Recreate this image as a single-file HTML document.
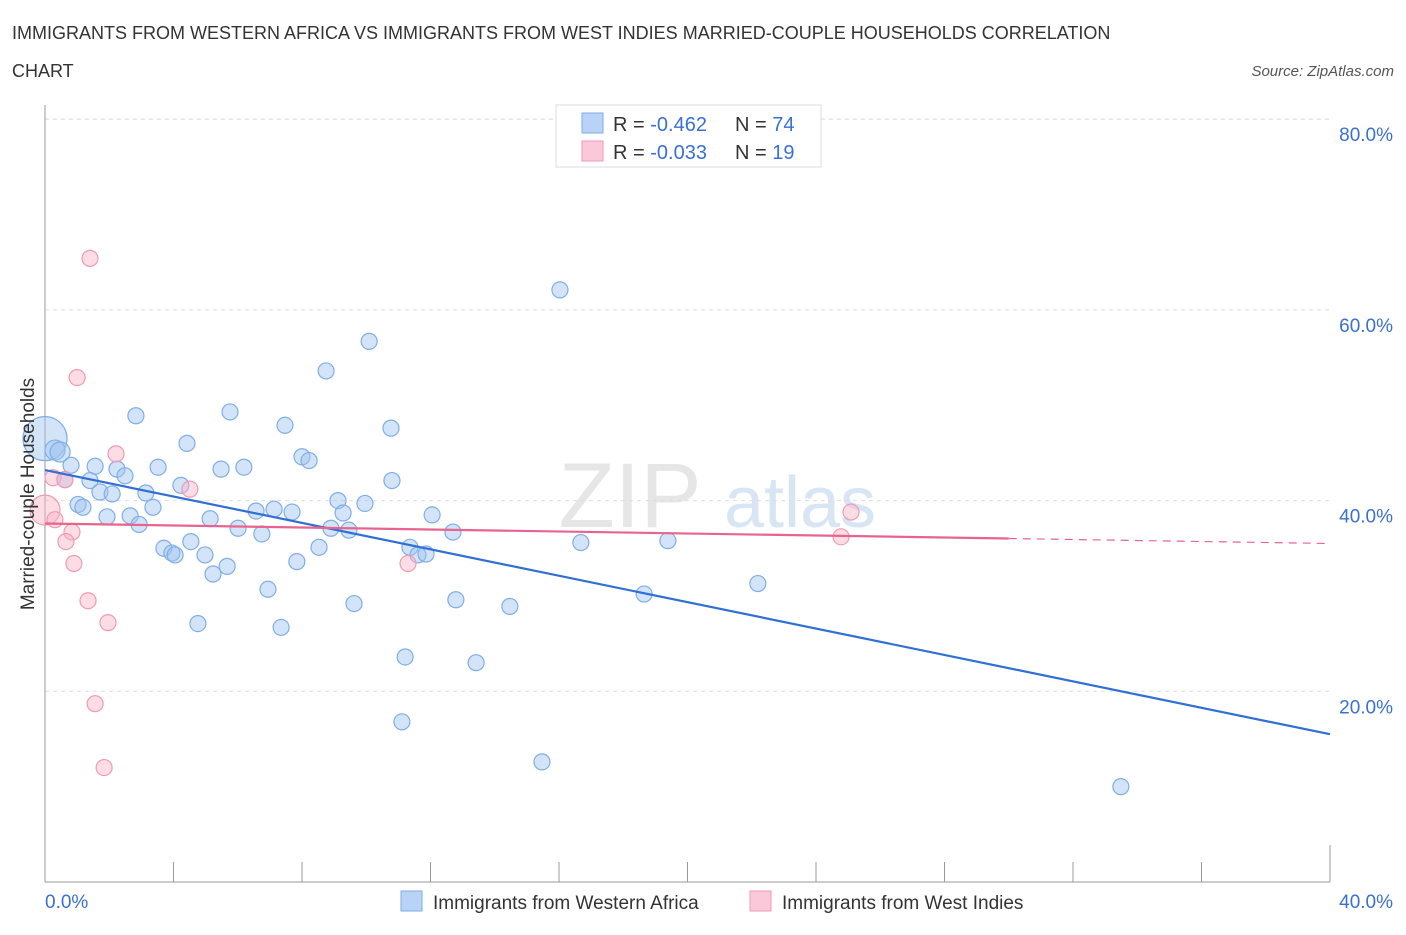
<!DOCTYPE html>
<html><head><meta charset="utf-8">
<style>
body{margin:0;background:#fff;font-family:"Liberation Sans",sans-serif;}
svg text{font-family:"Liberation Sans",sans-serif;}
</style></head>
<body>
<svg id="chart" width="1406" height="930" xmlns="http://www.w3.org/2000/svg">
<text x="12" y="39" font-size="18" fill="#333">IMMIGRANTS FROM WESTERN AFRICA VS IMMIGRANTS FROM WEST INDIES MARRIED-COUPLE HOUSEHOLDS CORRELATION</text>
<text x="12" y="77" font-size="18" fill="#333">CHART</text>
<text x="1394" y="76" font-size="15" fill="#555" text-anchor="end" font-style="italic">Source: ZipAtlas.com</text>
<g>
<text x="630" y="527" font-size="92" fill="#e6e6e6" text-anchor="middle" font-family="Liberation Serif">ZIP</text>
<text x="800" y="527" font-size="72" fill="#d7e5f5" text-anchor="middle">atlas</text>
</g>
<g id="grid"></g>
<g id="axes"></g>
<g id="marks"></g>
<g>
<rect x="556" y="105" width="265" height="62" fill="#fff" stroke="#ddd"/>
<rect x="582" y="113" width="21" height="20" fill="#b8d3f5" stroke="#7eaee8"/>
<text x="613" y="131" font-size="20" fill="#333">R = <tspan fill="#3a70d0">-0.462</tspan></text>
<text x="735" y="131" font-size="20" fill="#333">N = <tspan fill="#3a70d0">74</tspan></text>
<rect x="582" y="141" width="21" height="20" fill="#fac8d8" stroke="#f09ab5"/>
<text x="613" y="159" font-size="20" fill="#333">R = <tspan fill="#3a70d0">-0.033</tspan></text>
<text x="735" y="159" font-size="20" fill="#333">N = <tspan fill="#3a70d0"> 19</tspan></text>
</g>
<g>
<rect x="401" y="891" width="21" height="20" fill="#b8d3f5" stroke="#7eaee8"/>
<text x="433" y="909" font-size="19" fill="#333">Immigrants from Western Africa</text>
<rect x="750" y="891" width="21" height="20" fill="#fac8d8" stroke="#f09ab5"/>
<text x="782" y="909" font-size="19" fill="#333">Immigrants from West Indies</text>
</g>
<text transform="translate(34,494) rotate(-90)" font-size="19" fill="#333" text-anchor="middle">Married-couple Households</text>
</svg>
<script>
const blueX=[16.03,10.09,8.75,2.83,5.76,10.77,7.47,4.42,0,0.31,0.47,0.81,1.56,2.24,3.52,5.48,6.19,8.0,8.22,10.8,0.62,1.4,2.49,1.71,2.09,3.14,4.23,1.03,1.18,3.36,1.93,2.65,2.93,5.14,6.01,6.57,6.75,7.13,7.69,9.12,9.96,9.28,8.9,9.46,12.05,12.7,16.68,19.39,3.7,3.95,4.05,4.54,4.98,5.67,5.23,7.84,8.53,11.36,11.61,11.86,6.94,9.62,12.79,14.47,18.65,22.19,4.76,7.35,11.21,13.42,11.11,15.47,33.49];
const blueY=[62.1,56.7,53.6,48.9,49.3,47.6,47.9,46.0,46.5,45.3,45.1,43.7,43.6,43.3,43.5,43.3,43.5,44.6,44.2,42.1,42.2,42.1,42.6,40.9,40.7,40.8,41.6,39.6,39.3,39.3,38.3,38.4,37.5,38.1,37.1,38.9,36.5,39.1,38.8,40.0,39.7,38.7,37.1,36.9,38.5,36.7,35.6,35.8,35.0,34.5,34.3,35.7,34.3,33.1,32.3,33.6,35.1,35.1,34.3,34.4,30.7,29.2,29.6,28.9,30.2,31.3,27.1,26.7,23.6,23.0,16.8,12.6,10.0];
const blueW=[1,1,1,1,1,1,1,1,8,2,2,1,1,1,1,1,1,1,1,1,1,1,1,1,1,1,1,1,1,1,1,1,1,1,1,1,1,1,1,1,1,1,1,1,1,1,1,1,1,1,1,1,1,1,1,1,1,1,1,1,1,1,1,1,1,1,1,1,1,1,1,1,1];
const pinkX=[1.4,1.0,2.21,4.51,0.25,0.62,0,0.31,0.84,0.65,0.9,1.34,1.96,1.56,1.84,11.3,25.09,24.78];
const pinkY=[65.4,52.9,44.9,41.2,42.4,42.2,39.0,38.0,36.7,35.7,33.4,29.5,27.2,18.7,12.0,33.4,38.8,36.2];
const pinkW=[1,1,1,1,1,1,4,1,1,1,1,1,1,1,1,1,1,1];
const blueTrend=[43.2,15.5];
const pinkTrend=[37.6,35.5];
const pinkSolidEnd=30;
const yTicks=[20,40,60,80];
const yTickLabels=["20.0%","40.0%","60.0%","80.0%"];
const xTickLabels=["0.0%","40.0%"];

const X0=45,X1=1330,YB=882,YPX=9.535;
const sx=v=>X0+(v/40)*(X1-X0);
const sy=v=>YB-v*YPX;
const NS="http://www.w3.org/2000/svg";
function mk(tag,attrs,parent){const e=document.createElementNS(NS,tag);for(const k in attrs)e.setAttribute(k,attrs[k]);parent.appendChild(e);return e;}
const grid=document.getElementById('grid'),axes=document.getElementById('axes'),marks=document.getElementById('marks');
yTicks.forEach((t,i)=>{
  const l=mk('line',{x1:X0,x2:X1,y1:sy(t),y2:sy(t),stroke:'#ddd','stroke-dasharray':'4,4'},grid);
  
  
  const tx=mk('text',{x:1393,y:sy(t)+22,'font-size':19,fill:'#3a70d0','text-anchor':'end'},axes);
  tx.textContent=yTickLabels[i];
  
  
});
const topGrid=mk('line',{x1:X0,x2:X1,y1:119,y2:119,stroke:'#ddd','stroke-dasharray':'4,4'},grid);


const ya=mk('line',{x1:X0,x2:X0,y1:105,y2:YB,stroke:'#999'},axes);


const xa=mk('line',{x1:X0,x2:X1,y1:YB,y2:YB,stroke:'#999'},axes);


for(let i=0;i<=10;i++){
  const t=mk('line',{x1:sx(i*4),x2:sx(i*4),y1:YB,y2:i===0||i===10?845:862,stroke:'#999'},axes);
  
  
}
const xl0=mk('text',{x:45,y:908,'font-size':19,fill:'#3a70d0'},axes);
xl0.textContent=xTickLabels[0];


const xl1=mk('text',{x:1393,y:908,'font-size':19,fill:'#3a70d0','text-anchor':'end'},axes);
xl1.textContent=xTickLabels[1];



function rad(w){return w>=8?22:w>=4?15:w>=2?10:8;}
blueX.forEach((x,i)=>{
  const c=mk('circle',{cx:sx(x),cy:sy(blueY[i]),r:rad(blueW[i]||1),fill:'rgba(160,196,240,0.45)',stroke:'#7eaee8','stroke-width':1.2},marks);
  
  
});
pinkX.forEach((x,i)=>{
  const c=mk('circle',{cx:sx(x),cy:sy(pinkY[i]),r:rad(pinkW[i]||1),fill:'rgba(248,180,200,0.45)',stroke:'#f09ab5','stroke-width':1.2},marks);
  
  
});
const bl=mk('line',{x1:sx(0),y1:sy(blueTrend[0]),x2:sx(40),y2:sy(blueTrend[1]),stroke:'#2f6fd6','stroke-width':2.2},marks);


const pAt=x=>pinkTrend[0]+(pinkTrend[1]-pinkTrend[0])*x/40;
const pl=mk('line',{x1:sx(0),y1:sy(pinkTrend[0]),x2:sx(pinkSolidEnd),y2:sy(pAt(pinkSolidEnd)),stroke:'#e8648e','stroke-width':2.2},marks);


const pd=mk('line',{x1:sx(pinkSolidEnd),y1:sy(pAt(pinkSolidEnd)),x2:sx(40),y2:sy(pinkTrend[1]),stroke:'#e8648e','stroke-width':1.2,'stroke-dasharray':'8,6'},marks);


</script>
</body></html>
